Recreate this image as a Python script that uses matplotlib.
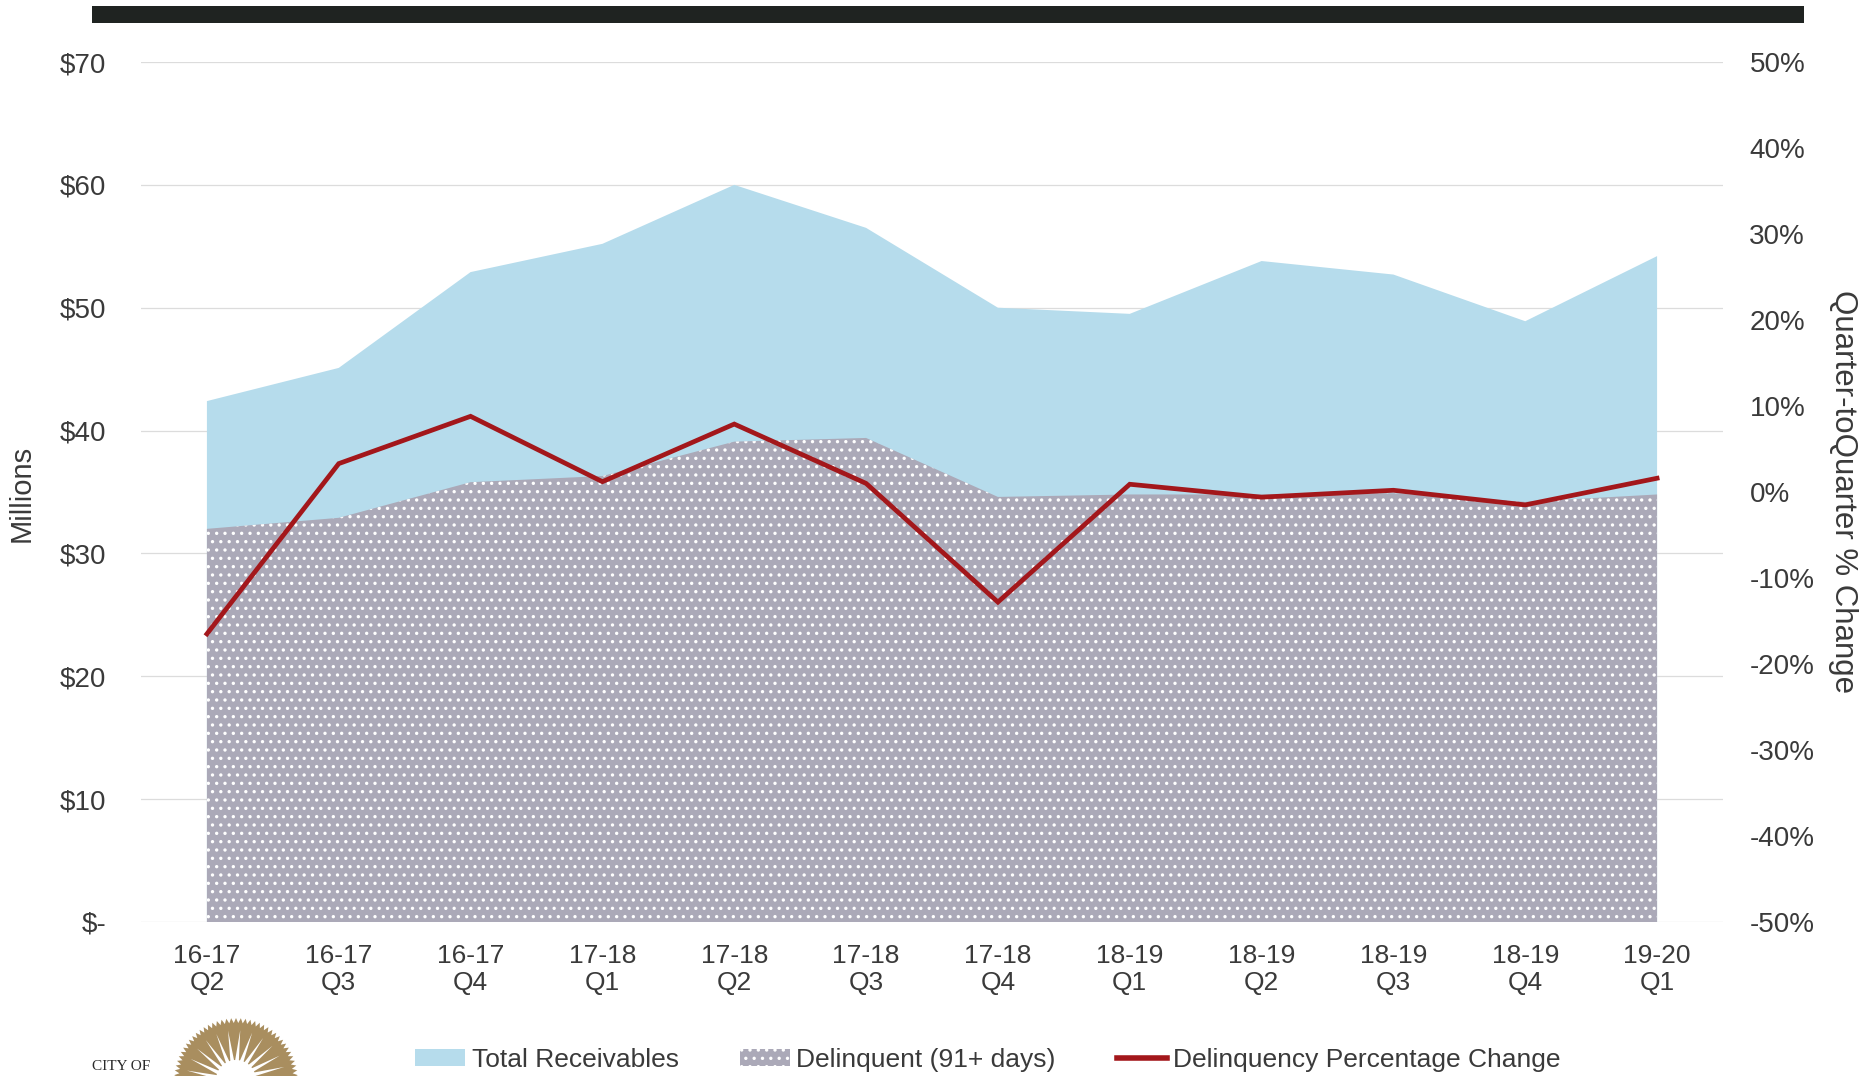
import matplotlib

matplotlib.use("Agg")

import matplotlib.pyplot as plt
import numpy as np
from matplotlib.patches import Circle, Polygon, Rectangle
from matplotlib.lines import Line2D

QUARTERS = [
    "16-17\nQ2", "16-17\nQ3", "16-17\nQ4", "17-18\nQ1", "17-18\nQ2", "17-18\nQ3",
    "17-18\nQ4", "18-19\nQ1", "18-19\nQ2", "18-19\nQ3", "18-19\nQ4", "19-20\nQ1",
]
TOTAL_RECEIVABLES = [42.4, 45.1, 52.9, 55.2, 60.0, 56.5, 50.0, 49.5, 53.8, 52.7, 48.9, 54.2]
DELINQUENT = [32.0, 32.9, 35.8, 36.3, 39.1, 39.4, 34.6, 34.8, 34.8, 34.9, 34.2, 34.8]
PCT_CHANGE = [-16.5, 3.3, 8.8, 1.2, 7.9, 1.0, -12.8, 0.9, -0.6, 0.2, -1.5, 1.6]

LEFT_TICKS = [0, 10, 20, 30, 40, 50, 60, 70]
LEFT_LABELS = ["$-", "$10", "$20", "$30", "$40", "$50", "$60", "$70"]
RIGHT_TICKS = [-50, -40, -30, -20, -10, 0, 10, 20, 30, 40, 50]
RIGHT_LABELS = [f"{t}%" for t in RIGHT_TICKS]

BLUE = "#b6dcec"
GRAY = "#aba9b8"
RED = "#a3171b"
TEXT = "#3a3a3a"

W, H = 1876, 1076

plt.rcParams["font.family"] = ["Liberation Sans", "DejaVu Sans"]
plt.rcParams["hatch.color"] = "white"
plt.rcParams["hatch.linewidth"] = 1.2

fig = plt.figure(figsize=(W / 100, H / 100), dpi=100)
fig.patch.set_facecolor("white")

left, right, top, bottom = 141, 1723, 62, 922
ax = fig.add_axes([left / W, 1 - bottom / H, (right - left) / W, (bottom - top) / H])

x = np.arange(len(QUARTERS))
ax.fill_between(x, 0, TOTAL_RECEIVABLES, facecolor=BLUE, edgecolor="none", linewidth=0, zorder=2)
ax.fill_between(x, 0, DELINQUENT, facecolor=GRAY, edgecolor="white", linewidth=0,
                hatch="..", zorder=3)

ax.set_xlim(-0.5, len(QUARTERS) - 0.5)
ax.set_ylim(0, 70)
ax.set_yticks(LEFT_TICKS)
ax.set_yticklabels(LEFT_LABELS)
ax.set_xticks(x)
ax.set_xticklabels(QUARTERS, linespacing=1.15)
ax.grid(axis="y", color="#dcdcdc", linewidth=0.9, zorder=0)
ax.set_axisbelow(True)
ax.tick_params(axis="y", length=0, pad=25, labelsize=20, labelcolor=TEXT)
ax.tick_params(axis="x", length=0, pad=16, labelsize=19, labelcolor=TEXT)
for s in ax.spines.values():
    s.set_visible(False)

ax2 = ax.twinx()
ax2.plot(x, PCT_CHANGE, color=RED, linewidth=3.4, solid_joinstyle="miter", zorder=5)
ax2.set_ylim(-50, 50)
ax2.set_yticks(RIGHT_TICKS)
ax2.set_yticklabels(RIGHT_LABELS)
ax2.tick_params(axis="y", length=0, pad=19, labelsize=20, labelcolor=TEXT)
for s in ax2.spines.values():
    s.set_visible(False)

fig.text(22 / W, 1 - 493 / H, "Millions", rotation=90, ha="center", va="center",
         fontsize=21, color=TEXT)
fig.text(1843 / W, 1 - 492 / H, "Quarter-toQuarter % Change", rotation=270,
         ha="center", va="center", fontsize=22.5, color=TEXT)

handles = [
    Rectangle((0, 0), 1, 1, facecolor=BLUE, edgecolor="none"),
    Rectangle((0, 0), 1, 1, facecolor=GRAY, edgecolor="white", linewidth=0, hatch=".."),
    Line2D([], [], color=RED, linewidth=4),
]
labels = ["Total Receivables", "Delinquent (91+ days)", "Delinquency Percentage Change"]
fig.legend(handles, labels, loc="center", bbox_to_anchor=(988 / W, 1 - 1060 / H), ncol=3,
           frameon=False, fontsize=19, handlelength=1.9, handleheight=0.6,
           handletextpad=0.25, columnspacing=2.3, labelcolor=TEXT, borderaxespad=0)

# decoration layer: dark header bar and the city logo, in pixel coords
deco = fig.add_axes([0, 0, 1, 1], zorder=-1)
deco.set_xlim(0, W)
deco.set_ylim(H, 0)
deco.axis("off")
deco.add_patch(Rectangle((92, 6), 1712, 17, facecolor="#1f2321", edgecolor="none"))

logo = fig.add_axes([0, 0, 1, 1], zorder=1)
logo.set_xlim(0, W)
logo.set_ylim(H, 0)
logo.axis("off")
cx, cy = 236, 1080
ang = np.linspace(0, 2 * np.pi, 161)
rad = np.where(np.arange(161) % 2 == 0, 62, 57)
logo.add_patch(Polygon(np.c_[cx + rad * np.cos(ang), cy + rad * np.sin(ang)],
                       facecolor="#a98e5f", edgecolor="none"))
for a in np.deg2rad(np.arange(-172, -5, 14)):
    pts = []
    for r, da in [(18, -0.10), (50, 0.05), (18, 0.12)]:
        pts.append((cx + r * np.cos(a + da), cy + r * np.sin(a + da)))
    logo.add_patch(Polygon(pts, facecolor="white", edgecolor="none"))
logo.add_patch(Circle((cx, cy), 20, facecolor="white", edgecolor="none"))
fig.text(92 / W, 1 - 1060 / H, "CITY OF", family=["Liberation Serif", "DejaVu Serif"],
         fontsize=11, color="#2a2a2a", ha="left", va="top")

fig.savefig("out.png", dpi=100)
